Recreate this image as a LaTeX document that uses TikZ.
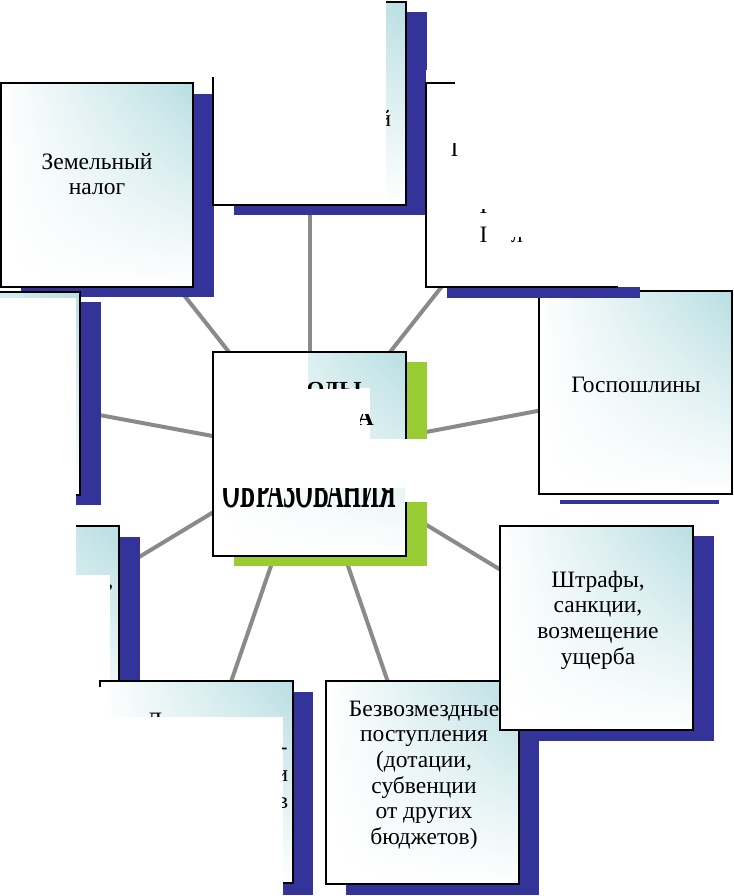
\documentclass[tikz,border=0pt]{standalone}
\usepackage{fontspec}
\usetikzlibrary{shadings}
\setmainfont{Liberation Serif}
\definecolor{sblue}{HTML}{333399}
\definecolor{sgreen}{HTML}{99CC33}
\definecolor{steal}{HTML}{B8DEE2}
\definecolor{sgrey}{HTML}{8A8A8A}
\tikzset{
  grad/.style={upper left=white, upper right=steal, lower left=white, lower right=white},
  conn/.style={draw=sgrey, line width=4pt},
  edgeline/.style={draw=black, line width=1.3pt},
  shadowb/.style={fill=sblue},
  shadowg/.style={fill=sgreen},
  patch/.style={fill=white},
  lbl/.style={font=\fontsize{23.5}{25.6}\selectfont, align=center, inner sep=0pt},
  frag/.style={font=\fontsize{23.5}{25.6}\selectfont, inner sep=0pt},
  bfrag/.style={font=\bfseries\fontsize{23}{27}\selectfont, inner sep=0pt},
}
\begin{document}
\begin{tikzpicture}[x=1pt,y=-1pt]
\clip (0,0) rectangle (733,896);
\useasboundingbox (0,0) rectangle (733,896);
\fill[white] (0,0) rectangle (733,896);

% centres of the boxes
\coordinate (cE) at (309.5,454);
\coordinate (cA) at (97,185);
\coordinate (cB) at (309.5,103.5);
\coordinate (cC) at (522,185);
\coordinate (cD) at (635.5,392.5);
\coordinate (cF) at (-16.5,393.5);
\coordinate (cG) at (22.5,627.5);
\coordinate (cH) at (196.5,782);
\coordinate (cI) at (422.5,782.5);
\coordinate (cJ) at (596.5,628);

% connectors
\foreach \t in {cA,cB,cC,cD,cF,cG,cH,cI,cJ} \draw[conn] (cE) -- (\t);

% D  Госпошлины
\fill[shadowb] (560,500) rectangle (719,504);
\shade[grad] (539,291) rectangle (732,494);
\draw[edgeline] (539,291) rectangle (732,494);
\node[frag, anchor=base] (tD) at (636,392) {Госпошлины};

% A  Земельный налог
\fill[shadowb] (21,94) rectangle (214,297);
\shade[grad] (1,83) rectangle (193,287);
\draw[edgeline] (1,83) rectangle (193,287);
\node[lbl] (tA) at (97,174) {Земельный\\налог};

% F (left, mostly hidden)
\fill[shadowb] (-92,302) rectangle (101,505);
\shade[grad] (-113,292) rectangle (80,495);
\draw[edgeline] (-113,292) rectangle (80,495);

% B (top, mostly hidden)
\fill[shadowb] (234,12) rectangle (427,215);
\shade[grad] (213,2) rectangle (406,205);
\draw[edgeline] (213,2) rectangle (406,205);
\fill[patch] (200,-5) rectangle (386,77.5);
\fill[patch] (213.7,77.5) rectangle (386,204.3);
\begin{scope}
  \clip (386,95) rectangle (406,135);
  \node[frag, anchor=base east] (fB) at (391.5,127) {й};
\end{scope}

% C (top right, mostly hidden)
\fill[patch] (426,70) rectangle (733,287);
\fill[shadowb] (447,287) rectangle (640,297.5);
\draw[edgeline] (455,83) -- (426,83) -- (426,287) -- (618,287);
\begin{scope}
  \clip (450,144) rectangle (460,160);
  \node[frag, anchor=base west] (fC1) at (450.5,157) {I};
\end{scope}
\begin{scope}
  \clip (478,209) rectangle (490,216);
  \node[frag, anchor=base west] (fC2) at (479.5,213) {I};
\end{scope}
\begin{scope}
  \clip (478,226) rectangle (490,246);
  \node[frag, anchor=base west] (fC3) at (479.5,242) {I};
\end{scope}
\begin{scope}
  \clip (505,237) rectangle (535,246);
  \node[frag, anchor=base west] (fC4) at (511,242) {л};
\end{scope}

% E (centre)
\fill[shadowg] (234,362) rectangle (427,566);
\shade[grad] (213,352) rectangle (406,556);
\draw[edgeline] (213,352) rectangle (406,556);
\fill[patch] (214.5,353) rectangle (308,488);
\fill[patch] (308,388) rectangle (370,488);
\fill[patch] (370,439) rectangle (405.3,488);
\fill[patch] (405.3,439) rectangle (430,502);
\begin{scope}
  \clip (308,370) rectangle (406,388);
  \node[bfrag, anchor=base east] (fE1) at (362,397) {ДОХОДЫ};
\end{scope}
\begin{scope}
  \clip (360,414) rectangle (406,439);
  \node[bfrag, anchor=base east] (fE2) at (374,425) {БЮДЖЕТА};
\end{scope}
\begin{scope}
  \clip (214,488) rectangle (405,520);
  \node[bfrag, anchor=base] (fE3) at (309.5,507) {\scalebox{1}[2.2]{ОБРАЗОВАНИЯ}};
\end{scope}

% G (left, mostly hidden)
\fill[shadowb] (-53,537) rectangle (140,740);
\shade[grad] (-74,526) rectangle (119,729);
\draw[edgeline] (-74,526) rectangle (119,729);
\fill[patch] (75.6,575) rectangle (110,729.5);
% white over the hidden left column (F and G)
\fill[patch] (-5,297.8) rectangle (75.6,900);
\fill[patch] (70,682) rectangle (99.3,760);
\begin{scope}
  \clip (110,575) rectangle (119,600);
  \node[frag, anchor=base west] (fG) at (107.5,587) {,};
\end{scope}

% H (bottom left, mostly hidden)
\fill[shadowb] (120,692) rectangle (313,895);
\shade[grad] (100,681) rectangle (293,883);
\draw[edgeline] (100,681) rectangle (293,883);
\node[frag, anchor=base west] (fH1) at (146,728) {Д};
\fill[patch] (98,687) rectangle (100.7,717);
\fill[patch] (98,717) rectangle (283,900);
\begin{scope}
  \clip (282.5,735) rectangle (292,815);
  \node[frag, anchor=base east] (fH2) at (288,754) {-};
  \node[frag, anchor=base east] (fH3) at (288.5,781) {и};
  \node[frag, anchor=base east] (fH4) at (288.5,808) {в};
\end{scope}

% I  Безвозмездные поступления
\fill[shadowb] (346,691) rectangle (539,895);
\shade[grad] (326,681) rectangle (519,884);
\draw[edgeline] (326,681) rectangle (519,884);
\node[lbl] (tI) at (424,775) {Безвозмездные\\поступления\\(дотации,\\субвенции\\от других\\бюджетов)};

% J  Штрафы
\fill[shadowb] (520,536) rectangle (714,741);
\shade[grad] (500,526) rectangle (693,730);
\draw[edgeline] (500,526) rectangle (693,730);
\node[lbl] (tJ) at (598,620) {Штрафы,\\санкции,\\возмещение\\ущерба};
\end{tikzpicture}
\end{document}
